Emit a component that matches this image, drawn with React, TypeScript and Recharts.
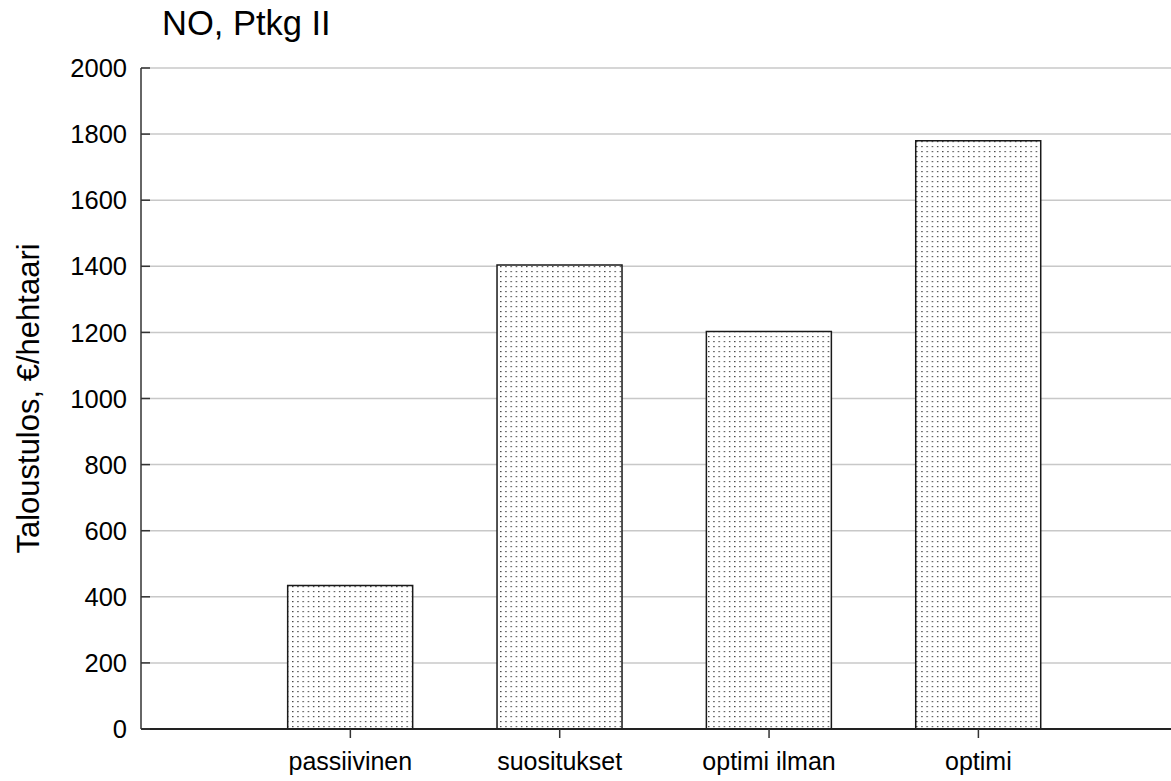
import { Bar, BarChart, CartesianGrid, XAxis, YAxis } from "recharts";

// values
const categories = ["passiivinen", "suositukset", "optimi ilman", "optimi"];
const positions = [1, 2, 3, 4];
const values = [434, 1404, 1203, 1780];
const yTicks = [0, 200, 400, 600, 800, 1000, 1200, 1400, 1600, 1800, 2000];

const data = categories.map((name, i) => ({ name, pos: positions[i], value: values[i] }));

const font = '"Liberation Sans", Arial, sans-serif';

function YTick({ x, y, payload }: any) {
  return (
    <g>
      <line x1={x} x2={x + 9} y1={y} y2={y} stroke="#333" strokeWidth={1.5} />
      <text x={x - 14} y={y} dy="0.36em" textAnchor="end" fontSize={25.5} fontFamily={font} fill="#000">
        {payload.value}
      </text>
    </g>
  );
}

export default function App() {
  return (
    <div style={{ position: "absolute", left: 0, top: 0, width: 1171, height: 781, background: "#fff" }}>
      <div
        style={{
          position: "absolute",
          left: 162,
          top: 6,
          fontFamily: font,
          fontSize: 34.5,
          lineHeight: 1,
          color: "#000",
        }}
      >
        NO, Ptkg II
      </div>
      <BarChart width={1171} height={781} data={data} margin={{ top: 68, right: 0, bottom: 0, left: 0 }}>
        <defs>
          <pattern id="dots" width={5.2} height={5} patternUnits="userSpaceOnUse">
            <rect width={5.2} height={5} fill="#fff" />
            <rect x={1} y={1} width={1.2} height={1.2} fill="#2a2a2a" />
          </pattern>
        </defs>
        <CartesianGrid vertical={false} stroke="#c8c8c8" strokeWidth={1.5} />
        <XAxis
          type="number"
          dataKey="pos"
          domain={[0, 4.92]}
          ticks={positions}
          interval={0}
          allowDataOverflow
          height={52}
          tickFormatter={(v: number) => categories[v - 1]}
          axisLine={{ stroke: "#222", strokeWidth: 2 }}
          tickLine={{ stroke: "#333", strokeWidth: 1.5 }}
          tickSize={9}
          tickMargin={14}
          tick={{ fontSize: 25, fontFamily: font, fill: "#000" }}
        />
        <YAxis
          type="number"
          domain={[0, 2000]}
          ticks={yTicks}
          interval={0}
          width={141}
          axisLine={{ stroke: "#333", strokeWidth: 1.5 }}
          tickLine={false}
          tickSize={0}
          tickMargin={0}
          tick={<YTick />}
          label={{
            value: "Taloustulos, €/hehtaari",
            angle: -90,
            position: "insideLeft",
            offset: 28,
            style: { textAnchor: "middle", fontSize: 31, fontFamily: font, fill: "#000" },
          }}
        />
        <Bar
          dataKey="value"
          barSize={125}
          fill="url(#dots)"
          stroke="#1a1a1a"
          strokeWidth={1.5}
          isAnimationActive={false}
        />
      </BarChart>
    </div>
  );
}
